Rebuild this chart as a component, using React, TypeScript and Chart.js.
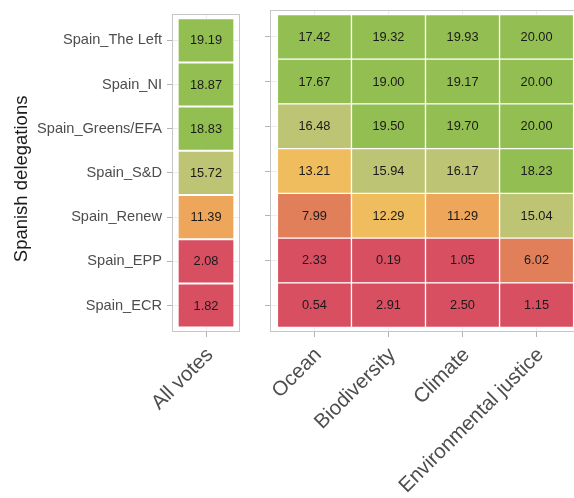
import React, { useEffect, useRef } from "react";
import { Chart, registerables } from "chart.js";

Chart.register(...registerables);

// ---------------- data ----------------
const rowLabels = [
  "Spain_The Left",
  "Spain_NI",
  "Spain_Greens/EFA",
  "Spain_S&D",
  "Spain_Renew",
  "Spain_EPP",
  "Spain_ECR",
];
const leftColumns = ["All votes"];
const rightColumns = ["Ocean", "Biodiversity", "Climate", "Environmental justice"];

const allVotes = [19.19, 18.87, 18.83, 15.72, 11.39, 2.08, 1.82];
const ocean = [17.42, 17.67, 16.48, 13.21, 7.99, 2.33, 0.54];
const biodiversity = [19.32, 19.0, 19.5, 15.94, 12.29, 0.19, 2.91];
const climate = [19.93, 19.17, 19.7, 16.17, 11.29, 1.05, 2.5];
const environmentalJustice = [20.0, 20.0, 20.0, 18.23, 15.04, 6.02, 1.15];

const yTitle = "Spanish delegations";

// ---------------- styling ----------------
const FONT = '"Liberation Sans", Arial, Helvetica, sans-serif';
const W = 574;
const H = 498;

function tileColor(v: number): string {
  if (v >= 17) return "#93bf52";
  if (v >= 15) return "#bdc474";
  if (v >= 12) return "#f0bd5e";
  if (v >= 10) return "#eda65a";
  if (v >= 5) return "#e27f5b";
  return "#d94f62";
}

type Cell = { x: number; y: [number, number]; v: number };

function buildCells(columns: number[][]): Cell[] {
  const cells: Cell[] = [];
  columns.forEach((col, c) => {
    col.forEach((v, r) => {
      cells.push({ x: c, y: [r, r + 1], v });
    });
  });
  return cells;
}

const panelPlugin = {
  id: "panelTiles",
  afterDatasetsDraw(chart: any) {
    const { ctx, chartArea } = chart;
    ctx.save();
    // panel border
    ctx.strokeStyle = "#c6c6c6";
    ctx.lineWidth = 1;
    ctx.strokeRect(
      Math.round(chartArea.left) + 0.5,
      Math.round(chartArea.top) + 0.5,
      Math.round(chartArea.width) - 1,
      Math.round(chartArea.height) - 1
    );
    // values in tiles
    ctx.font = `12.8px ${FONT}`;
    ctx.fillStyle = "#1a1a1a";
    ctx.textAlign = "center";
    ctx.textBaseline = "middle";
    const meta = chart.getDatasetMeta(0);
    const data = chart.data.datasets[0].data as Cell[];
    meta.data.forEach((bar: any, i: number) => {
      const p = bar.getProps(["x", "y", "base"], true);
      ctx.fillText(data[i].v.toFixed(2), p.x, (p.y + p.base) / 2 + 0.5);
    });
    ctx.restore();
  },
};

const sideTitlePlugin = {
  id: "sideTitle",
  afterDraw(chart: any, _args: any, opts: any) {
    if (!opts || !opts.text) return;
    const { ctx, chartArea } = chart;
    ctx.save();
    ctx.font = `${opts.size}px ${FONT}`;
    ctx.fillStyle = opts.color;
    ctx.textAlign = "center";
    ctx.textBaseline = "middle";
    ctx.translate(opts.x, (chartArea.top + chartArea.bottom) / 2 + opts.shift);
    ctx.rotate(-Math.PI / 2);
    ctx.fillText(opts.text, 0, 0);
    ctx.restore();
  },
};

function makeConfig(opts: {
  columns: string[];
  values: number[][];
  showRowLabels: boolean;
  yAxisWidth: number;
  paddingRight: number;
}) {
  const n = opts.columns.length;
  const span = n + 0.2; // tiles of width 1 plus 0.1 expansion on each side
  const isSingle = n === 1;
  return {
    type: "bar" as const,
    data: {
      datasets: [
        {
          data: buildCells(opts.values),
          backgroundColor: (ctx: any) => tileColor(ctx.raw ? ctx.raw.v : 0),
          borderColor: "#ffffff",
          borderWidth: 1,
          borderSkipped: false,
          categoryPercentage: 1,
          // one column: ruler spans the whole panel (span units) -> keep one unit
          barPercentage: isSingle ? 1 / span : 1,
        },
      ],
    },
    options: {
      animation: false,
      responsive: false,
      maintainAspectRatio: false,
      layout: { padding: { left: 0, right: opts.paddingRight, top: 10, bottom: 0 } },
      plugins: {
        legend: { display: false },
        tooltip: { enabled: false },
        sideTitle: opts.showRowLabels
          ? { text: yTitle, size: 18.5, color: "#1a1a1a", x: 22, shift: 6 }
          : { text: "" },
      },
      scales: {
        x: {
          type: "linear",
          offset: false,
          min: -0.6,
          max: n - 0.4,
          afterBuildTicks: (s: any) => {
            s.ticks = opts.columns.map((_, i) => ({ value: i }));
          },
          afterFit: (s: any) => {
            s.height = H - 332;
            s.paddingLeft = 0;
            s.paddingRight = 0;
          },
          ticks: {
            autoSkip: false,
            minRotation: 45,
            maxRotation: 45,
            padding: 6,
            labelOffset: 4,
            color: "#4d4d4d",
            font: { family: FONT, size: 20.5 },
            callback: (_v: any, i: number) => opts.columns[i],
          },
          grid: { offset: false, color: "#ececec", tickColor: "#b3b3b3", tickLength: 5 },
          border: { display: false },
        },
        y: {
          type: "linear",
          reverse: true,
          offset: false,
          min: -0.1,
          max: rowLabels.length + 0.1,
          afterBuildTicks: (s: any) => {
            s.ticks = rowLabels.map((_, i) => ({ value: i + 0.5 }));
          },
          afterFit: (s: any) => {
            s.width = opts.yAxisWidth;
          },
          ticks: {
            display: opts.showRowLabels,
            padding: 5,
            color: "#4d4d4d",
            font: { family: FONT, size: 14.6 },
            callback: (_v: any, i: number) => rowLabels[i],
          },
          grid: { offset: false, color: "#ececec", tickColor: "#b3b3b3", tickLength: 5 },
          border: { display: false },
        },
      },
    },
    plugins: [panelPlugin, sideTitlePlugin],
  };
}

function Panel(props: {
  left: number;
  width: number;
  columns: string[];
  values: number[][];
  showRowLabels: boolean;
  yAxisWidth: number;
  paddingRight: number;
}) {
  const ref = useRef<HTMLCanvasElement | null>(null);
  useEffect(() => {
    if (!ref.current) return;
    const chart = new Chart(
      ref.current,
      makeConfig({
        columns: props.columns,
        values: props.values,
        showRowLabels: props.showRowLabels,
        yAxisWidth: props.yAxisWidth,
        paddingRight: props.paddingRight,
      }) as any
    );
    return () => chart.destroy();
  }, []);
  return (
    <canvas
      ref={ref}
      width={props.width}
      height={H}
      style={{
        position: "absolute",
        left: props.left,
        top: 0,
        width: props.width,
        height: H,
        display: "block",
      }}
    />
  );
}

export default function App() {
  return (
    <div
      style={{
        position: "absolute",
        left: 0,
        top: 0,
        width: W,
        height: H,
        overflow: "hidden",
        background: "#ffffff",
      }}
    >
      <Panel
        left={0}
        width={250}
        columns={leftColumns}
        values={[allVotes]}
        showRowLabels={true}
        yAxisWidth={172}
        paddingRight={10}
      />
      <Panel
        left={250}
        width={341}
        columns={rightColumns}
        values={[ocean, biodiversity, climate, environmentalJustice]}
        showRowLabels={false}
        yAxisWidth={20}
        paddingRight={10}
      />
    </div>
  );
}
